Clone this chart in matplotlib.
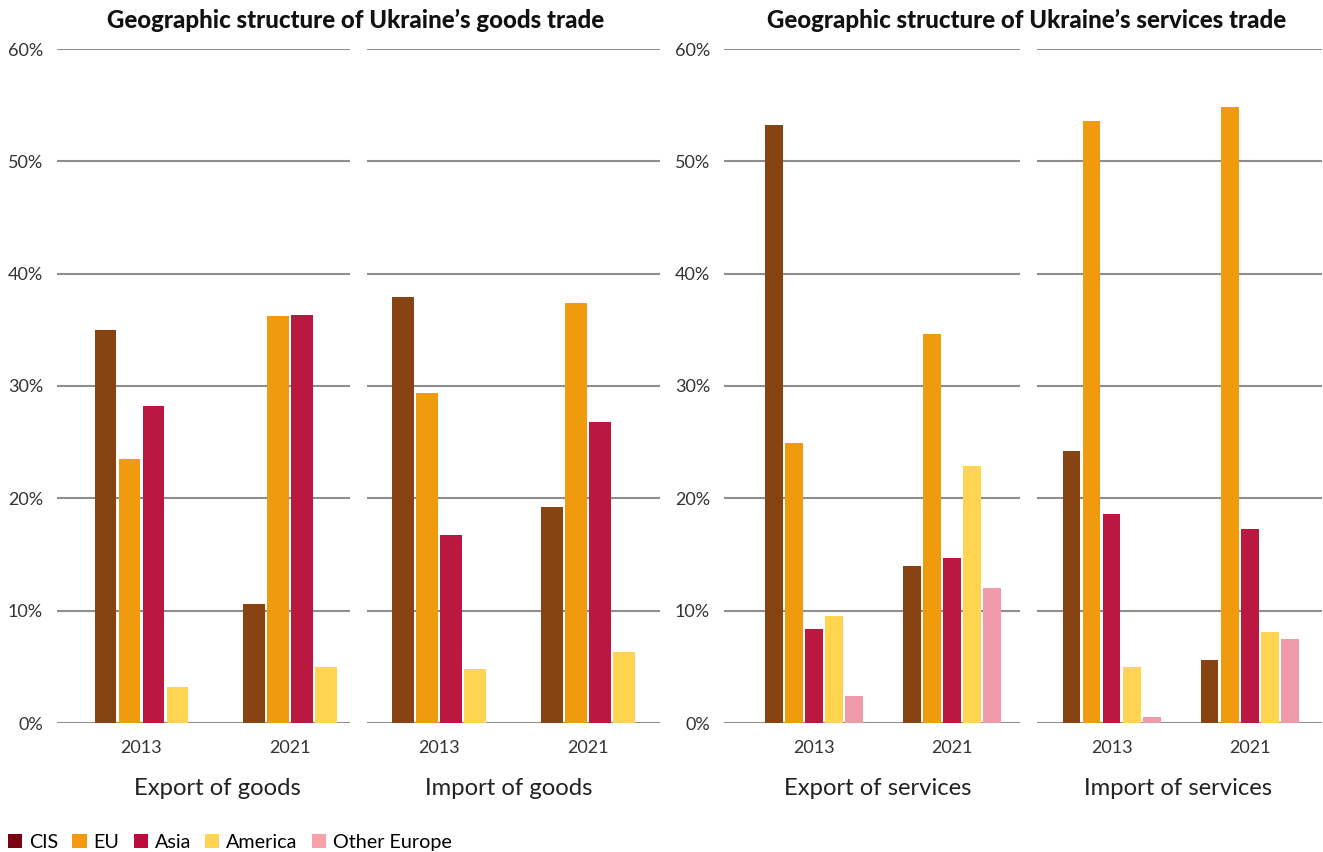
import numpy as np
import matplotlib
matplotlib.use("Agg")
import matplotlib.pyplot as plt
from matplotlib.patches import Patch

plt.rcParams['font.family'] = ['Lato', 'DejaVu Sans']

# Data (shares, %)
years = ['2013', '2021']
regions = ['CIS', 'EU', 'Asia', 'America', 'Other Europe']

export_goods = {'CIS': [35.0, 10.6], 'EU': [23.5, 36.2], 'Asia': [28.2, 36.3], 'America': [3.2, 5.0]}
import_goods = {'CIS': [37.9, 19.2], 'EU': [29.4, 37.4], 'Asia': [16.7, 26.8], 'America': [4.8, 6.3]}
export_services = {'CIS': [53.2, 14.0], 'EU': [24.9, 34.6], 'Asia': [8.4, 14.7],
                   'America': [9.5, 22.9], 'Other Europe': [2.4, 12.0]}
import_services = {'CIS': [24.2, 5.6], 'EU': [53.6, 54.8], 'Asia': [18.6, 17.3],
                   'America': [5.0, 8.1], 'Other Europe': [0.5, 7.5]}

bar_colors = {'CIS': '#874312', 'EU': '#F09A0E', 'Asia': '#BA1840',
              'America': '#FFD450', 'Other Europe': '#F19BAA'}
legend_colors = {'CIS': '#7A0012', 'EU': '#F39A10', 'Asia': '#BE0A3F',
                 'America': '#FFD550', 'Other Europe': '#F8A1AB'}

fig = plt.figure(figsize=(13.23, 8.52), dpi=100)

bottom = 1 - 723 / 852
height = (723 - 49) / 852
W = 1323

panels = [
    # data, xlabel, left px, right px, xlim, bar width, pitch, show y labels, label centre px
    (export_goods, 'Export of goods', 57, 350, (-0.569, 1.404), 0.148, 0.1616, True, 217),
    (import_goods, 'Import of goods', 367, 660, (-0.485, 1.488), 0.148, 0.1616, False, 508.5),
    (export_services, 'Export of services', 724, 1020, (-0.652, 1.49), 0.13, 0.145, True, 877.5),
    (import_services, 'Import of services', 1037, 1322, (-0.54, 1.525), 0.13, 0.145, False, 1177.5),
]

x = np.arange(len(years))
for data, label, l, r, xlim, bw, pitch, show_y, lc in panels:
    ax = fig.add_axes([l / W, bottom, (r - l) / W, height])
    keys = list(data.keys())
    n = len(keys)
    for i, k in enumerate(keys):
        off = (i - (n - 1) / 2) * pitch
        ax.bar(x + off, data[k], width=bw, color=bar_colors[k], zorder=3)
    ax.set_xlim(*xlim)
    ax.set_ylim(0, 60)
    ax.set_yticks(np.arange(0, 61, 10))
    ax.yaxis.grid(True, color='#8E8E8E', linewidth=1.5, zorder=0)
    ax.set_axisbelow(True)
    for s in ax.spines.values():
        s.set_visible(False)
    ax.set_xticks(x)
    ax.set_xticklabels(years, fontsize=13, color='#333333')
    ax.tick_params(axis='x', length=0, pad=12)
    ax.tick_params(axis='y', length=0, pad=10)
    if show_y:
        ax.set_yticklabels([f'{v}%' for v in range(0, 61, 10)], fontsize=13, color='#333333')
    else:
        ax.set_yticklabels([])
    ax.set_xlabel(label, fontsize=17.2, color='#222222', labelpad=16)
    ax.xaxis.label.set_x((lc - l) / (r - l))

fig.text(356 / W, 1 - 20 / 852, "Geographic structure of Ukraine\u2019s goods trade",
         ha='center', va='center', fontsize=17.3, fontweight='black', color='#111111')
fig.text(1027 / W, 1 - 20 / 852, "Geographic structure of Ukraine\u2019s services trade",
         ha='center', va='center', fontsize=17.3, fontweight='black', color='#111111')

handles = [Patch(facecolor=legend_colors[k], label=k) for k in regions]
fig.legend(handles=handles, loc='lower left', bbox_to_anchor=(0.0, -0.008), ncol=5,
           frameon=False, fontsize=14.2, handlelength=0.72, handleheight=0.72,
           handletextpad=0.35, columnspacing=0.72, borderaxespad=0.2, borderpad=0.2)

fig.savefig('out.png', dpi=100)
